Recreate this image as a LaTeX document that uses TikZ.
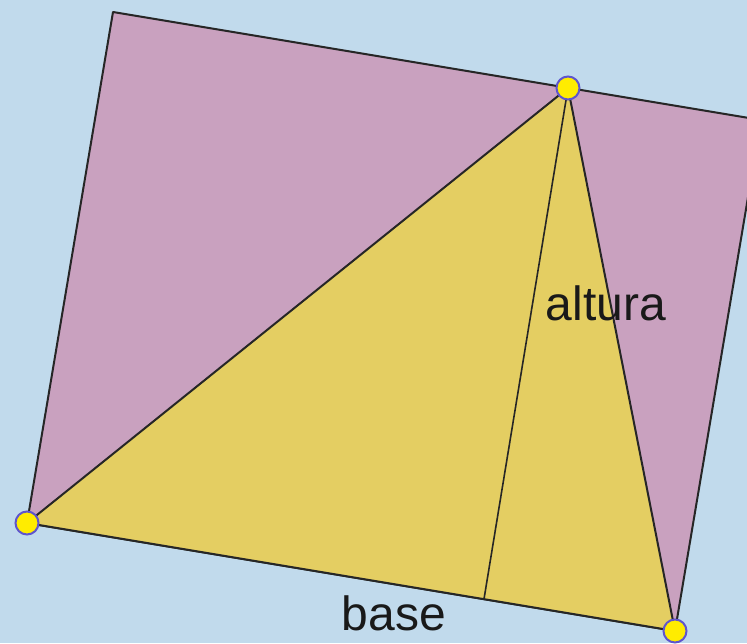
\documentclass[tikz,border=0pt]{standalone}
\usepackage{fontspec}
\setmainfont{Liberation Sans}
\definecolor{bgblue}{RGB}{193,218,236}
\definecolor{rectpink}{RGB}{201,161,191}
\definecolor{triyellow}{RGB}{228,206,98}
\definecolor{ptyellow}{RGB}{255,236,0}
\definecolor{ptblue}{RGB}{95,85,205}
\tikzset{
  edge/.style={draw=black!85, line width=2pt, line join=round},
  pt/.style={circle, fill=ptyellow, draw=ptblue, line width=2pt, minimum size=23pt, inner sep=0pt},
  lbl/.style={font=\fontsize{48}{48}\selectfont, text=black!90, anchor=base, inner sep=0pt}
}
\begin{document}
\begin{tikzpicture}[x=1pt,y=-1pt]
\fill[bgblue] (0,0) rectangle (747,643);
\useasboundingbox (0,0) rectangle (747,643);
\begin{scope}
\clip (0,0) rectangle (747,643);
\coordinate (A) at (27,523);
\coordinate (B) at (675,631);
\coordinate (C) at (568,88);
\coordinate (D) at (113,12);
\coordinate (E) at (761,120);
\coordinate (H) at (484,599);
\path[edge, fill=rectpink] (A) -- (B) -- (E) -- (D) -- cycle;
\path[edge, fill=triyellow] (A) -- (B) -- (C) -- cycle;
\draw[edge, line width=1.6pt] (C) -- (H);
\node[lbl] (alt) at (606,320) {altura};
\node[lbl] (bas) at (394,630) {base};
\node[pt] (pA) at (A) {};
\node[pt] (pB) at (B) {};
\node[pt] (pC) at (C) {};
\end{scope}
\end{tikzpicture}
\end{document}
